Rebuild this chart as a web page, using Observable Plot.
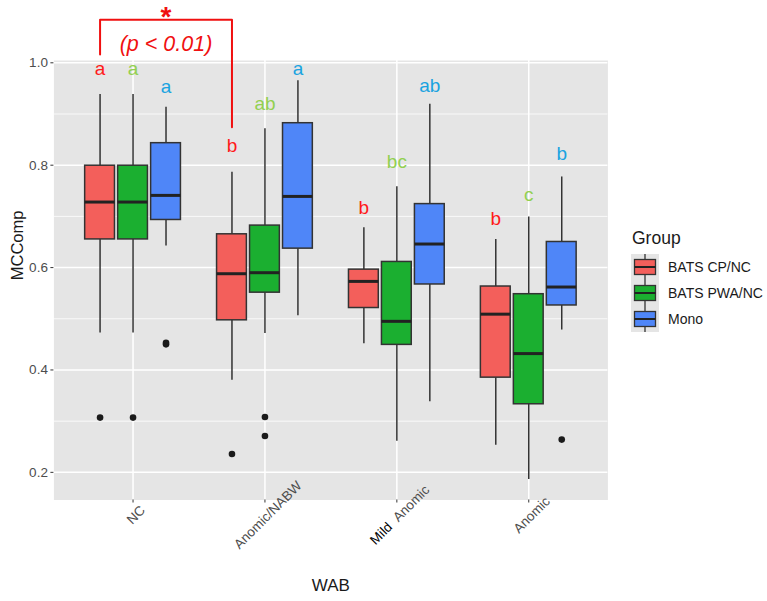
<!DOCTYPE html>
<html>
<head>
<meta charset="utf-8">
<script src="https://cdn.jsdelivr.net/npm/d3@7"></script>
<script src="https://cdn.jsdelivr.net/npm/@observablehq/plot@0.6"></script>
<style>
  body { margin: 0; background: #fff; font-family: "Liberation Sans", Arial, sans-serif; }
  #wrap { position: relative; width: 767px; height: 601px; }
  #legend { position: absolute; left: 631px; top: 228px; font-family: "Liberation Sans", Arial, sans-serif; }
  #legend .title { font-size: 17.5px; color: #1a1a1a; margin-bottom: 5px; margin-left: 1px; }
  #legend .row { display: flex; align-items: center; height: 26px; }
  #legend .row span { font-size: 14px; color: #1a1a1a; margin-left: 9px; }
</style>
</head>
<body>
<div id="wrap"><div id="chart"></div><div id="legend"></div></div>
<script>
// ---- data ----
const categories = ["NC", "Anomic/NABW", "Mild Anomic", "Anomic"];
const groups = ["BATS CP/NC", "BATS PWA/NC", "Mono"];
const boxFills = ["#F35F5B", "#1BAF30", "#4F86F8"];
const letterColors = ["#FF1A1A", "#92D050", "#1AA3E0"];

// per category, per group (order: categories x groups)
const whiskerLow  = [0.472, 0.472, 0.642,  0.380, 0.471, 0.506,  0.451, 0.261, 0.338,  0.253, 0.186, 0.478];
const q1          = [0.655, 0.655, 0.693,  0.497, 0.551, 0.637,  0.521, 0.449, 0.567,  0.385, 0.333, 0.526];
const medians     = [0.728, 0.728, 0.741,  0.588, 0.590, 0.739,  0.573, 0.495, 0.646,  0.509, 0.432, 0.562];
const q3          = [0.799, 0.799, 0.843,  0.665, 0.682, 0.882,  0.596, 0.611, 0.724,  0.563, 0.548, 0.650];
const whiskerHigh = [0.938, 0.938, 0.913,  0.786, 0.871, 0.965,  0.678, 0.758, 0.919,  0.655, 0.699, 0.777];

// outliers: [category, group, value]
const outlierCat   = ["NC", "NC", "NC", "NC", "Anomic/NABW", "Anomic/NABW", "Anomic/NABW", "Anomic"];
const outlierGroup = ["BATS CP/NC", "BATS PWA/NC", "Mono", "Mono", "BATS CP/NC", "BATS PWA/NC", "BATS PWA/NC", "Mono"];
const outlierValue = [0.307, 0.307, 0.450, 0.453, 0.236, 0.308, 0.271, 0.264];

// significance letters and their heights (data units)
const letters      = ["a", "a", "a",  "b", "ab", "a",  "b", "bc", "ab",  "b", "c", "b"];
const letterHeight = [0.988, 0.988, 0.952,  0.837, 0.920, 0.988,  0.716, 0.806, 0.954,  0.695, 0.741, 0.822];

// bracket annotation (NC CP/NC vs Anomic/NABW CP/NC)
const bracketX = [-0.25, -0.25, 0.75, 0.75];
const bracketY = [1.016, 1.084, 1.084, 0.874];
const starText = "*";
const pText = "(p < 0.01)";

const yTicks = [0.2, 0.4, 0.6, 0.8, 1.0];
const yMinor = [0.3, 0.5, 0.7, 0.9];

// ---- derived table ----
const dodge = 0.25, halfW = 0.113;
const pos = (c, g) => categories.indexOf(c) + (groups.indexOf(g) - 1) * dodge;
const rows = [];
categories.forEach((c, ci) => groups.forEach((g, gi) => {
  const k = ci * 3 + gi;
  rows.push({cat: c, group: g, x: pos(c, g), lo: whiskerLow[k], q1: q1[k], med: medians[k], q3: q3[k], hi: whiskerHigh[k], letter: letters[k], lh: letterHeight[k]});
}));
const outliers = outlierValue.map((v, i) => ({x: pos(outlierCat[i], outlierGroup[i]), v}));
const bracket = bracketX.map((x, i) => ({x, y: bracketY[i]}));
const catRows = categories.map((c, i) => ({i, c}));

const font = "Liberation Sans, Arial, sans-serif";

const chart = Plot.plot({
  width: 767, height: 601,
  marginLeft: 53.4, marginRight: 159.6, marginTop: 60, marginBottom: 101.5,
  style: {fontFamily: font, background: "#fff", overflow: "visible"},
  x: {type: "linear", domain: [-0.6, 3.6], axis: null},
  y: {domain: [0.146, 1.0045], axis: null},
  color: {domain: groups, range: boxFills},
  marks: [
    Plot.frame({fill: "#E5E5E5", stroke: null}),
    Plot.gridY(yMinor, {stroke: "#fff", strokeOpacity: 1, strokeWidth: 0.8}),
    Plot.gridY(yTicks, {stroke: "#fff", strokeOpacity: 1, strokeWidth: 1.5}),
    Plot.gridX([0, 1, 2, 3], {stroke: "#fff", strokeOpacity: 1, strokeWidth: 1.5}),
    Plot.axisY({ticks: yTicks, tickFormat: ".1f", tickSize: 3, tickPadding: 3, fontSize: 13.5, stroke: "#333", fill: "#4D4D4D", label: null}),
    Plot.axisX({ticks: [0, 1, 2, 3], tickSize: 3, tickFormat: () => "", stroke: "#333", label: null}),
    Plot.text(catRows, {x: "i", text: "c", frameAnchor: "bottom", dy: 15, dx: 3, rotate: -45, textAnchor: "middle", lineAnchor: "middle", fontSize: 13.5, fill: "#4D4D4D"}),
    // whiskers
    Plot.ruleX(rows, {x: "x", y1: "lo", y2: "q1", stroke: "#333", strokeWidth: 1.5}),
    Plot.ruleX(rows, {x: "x", y1: "q3", y2: "hi", stroke: "#333", strokeWidth: 1.5}),
    // boxes
    Plot.rect(rows, {x1: d => d.x - halfW, x2: d => d.x + halfW, y1: "q1", y2: "q3", fill: "group", stroke: "#333", strokeWidth: 1.5}),
    Plot.ruleY(rows, {y: "med", x1: d => d.x - halfW, x2: d => d.x + halfW, stroke: "#222", strokeWidth: 3}),
    // outliers
    Plot.dot(outliers, {x: "x", y: "v", r: 3.3, fill: "#1a1a1a", stroke: null}),
    // letters
    ...groups.map((g, gi) => Plot.text(rows.filter(d => d.group === g), {x: "x", y: "lh", text: "letter", fill: letterColors[gi], fontSize: 19, lineAnchor: "middle"})),
    // bracket
    Plot.line(bracket, {x: "x", y: "y", stroke: "#F01010", strokeWidth: 2, curve: "linear"}),
    Plot.text([starText], {x: () => 0.25, y: () => 1.09, text: d => d, fill: "#F01010", fontSize: 28, fontWeight: "bold", lineAnchor: "middle"}),
    Plot.text([pText], {x: () => 0.25, y: () => 1.037, text: d => d, fill: "#F01010", fontSize: 21.5, fontStyle: "italic", lineAnchor: "middle"}),
    // axis titles
    Plot.text(["MCComp"], {frameAnchor: "left", dx: -36, rotate: -90, text: d => d, fontSize: 16.5, fill: "#1a1a1a"}),
    Plot.text(["WAB"], {frameAnchor: "bottom", dy: 91, text: d => d, fontSize: 17, fill: "#1a1a1a"})
  ]
});
document.getElementById("chart").appendChild(chart);

// darker "Mild" in the third category label, as in the source figure
d3.select(chart).selectAll("text").filter(function() { return this.textContent === "Mild Anomic"; })
  .each(function() {
    const el = d3.select(this);
    el.text(null);
    el.append("tspan").attr("fill", "#000").text("Mild");
    el.append("tspan").text("\u00a0\u00a0Anomic");
  });

// legend
const leg = document.getElementById("legend");
const t = document.createElement("div");
t.className = "title"; t.textContent = "Group";
leg.appendChild(t);
groups.forEach((g, i) => {
  const row = document.createElement("div");
  row.className = "row";
  row.innerHTML = `<svg width="28" height="26"><rect x="0" y="0" width="28" height="26" fill="#E5E5E5"/>
    <line x1="14" y1="0" x2="14" y2="26" stroke="#333" stroke-width="1.3"/>
    <rect x="3.5" y="5.5" width="21" height="15" fill="${boxFills[i]}" stroke="#333" stroke-width="1.3"/>
    <line x1="3.5" y1="13" x2="24.5" y2="13" stroke="#222" stroke-width="2"/></svg><span>${g}</span>`;
  leg.appendChild(row);
});
</script>
</body>
</html>
